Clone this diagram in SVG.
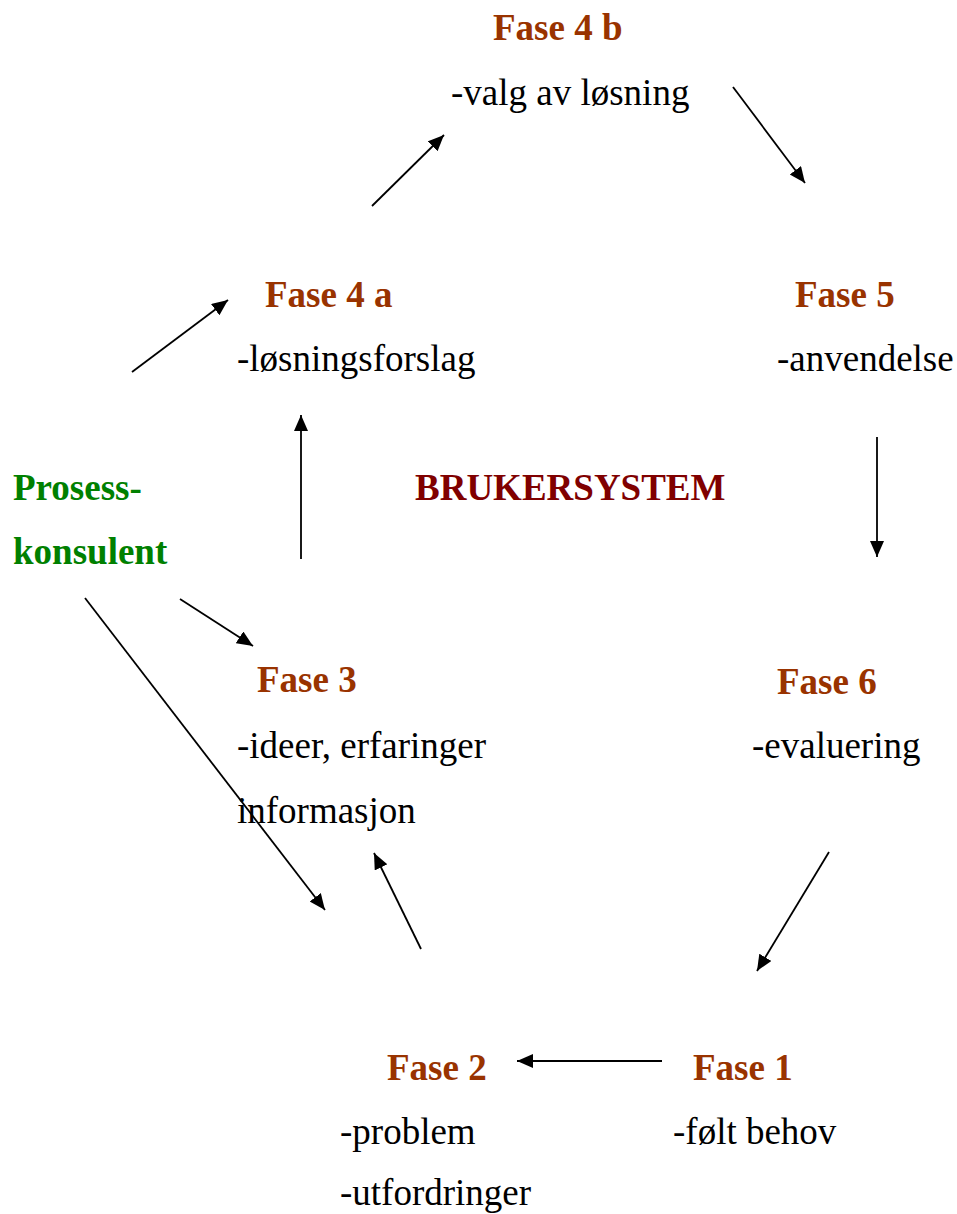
<svg xmlns="http://www.w3.org/2000/svg" width="957" height="1214" viewBox="0 0 957 1214">
<style>
text{font-family:"Liberation Serif","Times New Roman",serif;font-size:37px;fill:#000}
.ph{font-weight:bold;fill:#993300}
.pk{font-weight:bold;fill:#008000}
.bs{font-weight:bold;fill:#800000}
.c line{stroke:#000;stroke-width:1.8;marker-end:url(#ah)}
</style>
<defs>
<marker id="ah" markerUnits="userSpaceOnUse" markerWidth="18" markerHeight="15" refX="16" refY="7" orient="auto">
<path d="M0,0 L16,7 L0,14 z" fill="#000"/>
</marker>
</defs>
<rect width="957" height="1214" fill="#fff"/>
<g id="fase4b"><text class="ph" x="493" y="40">Fase 4 b</text><text x="451" y="105">-valg av løsning</text></g>
<g id="fase4a"><text class="ph" x="265" y="307">Fase 4 a</text><text x="237" y="371">-løsningsforslag</text></g>
<g id="fase5"><text class="ph" x="795" y="307">Fase 5</text><text x="777" y="371">-anvendelse</text></g>
<g id="prosesskonsulent"><text class="pk" x="13" y="500">Prosess-</text><text class="pk" x="13" y="564">konsulent</text></g>
<g id="brukersystem"><text class="bs" x="415" y="500">BRUKERSYSTEM</text></g>
<g id="fase3"><text class="ph" x="257" y="692">Fase 3</text><text x="237" y="758">-ideer, erfaringer</text><text x="237" y="823">informasjon</text></g>
<g id="fase6"><text class="ph" x="777" y="694">Fase 6</text><text x="752" y="758">-evaluering</text></g>
<g id="fase2"><text class="ph" x="387" y="1080">Fase 2</text><text x="340" y="1144">-problem</text><text x="340" y="1205">-utfordringer</text></g>
<g id="fase1"><text class="ph" x="693" y="1080">Fase 1</text><text x="673" y="1144">-følt behov</text></g>
<g id="connectors" class="c">
<line x1="372" y1="206" x2="444" y2="135"/>
<line x1="733" y1="87" x2="805" y2="183"/>
<line x1="877" y1="437" x2="877" y2="557"/>
<line x1="829" y1="852" x2="757" y2="971"/>
<line x1="662" y1="1061" x2="517" y2="1061"/>
<line x1="421" y1="949" x2="374" y2="853"/>
<line x1="301" y1="559" x2="301" y2="415"/>
<line x1="132" y1="372" x2="228" y2="300"/>
<line x1="180" y1="599" x2="253" y2="646"/>
<line x1="85" y1="598" x2="325" y2="910"/>
</g>
</svg>
